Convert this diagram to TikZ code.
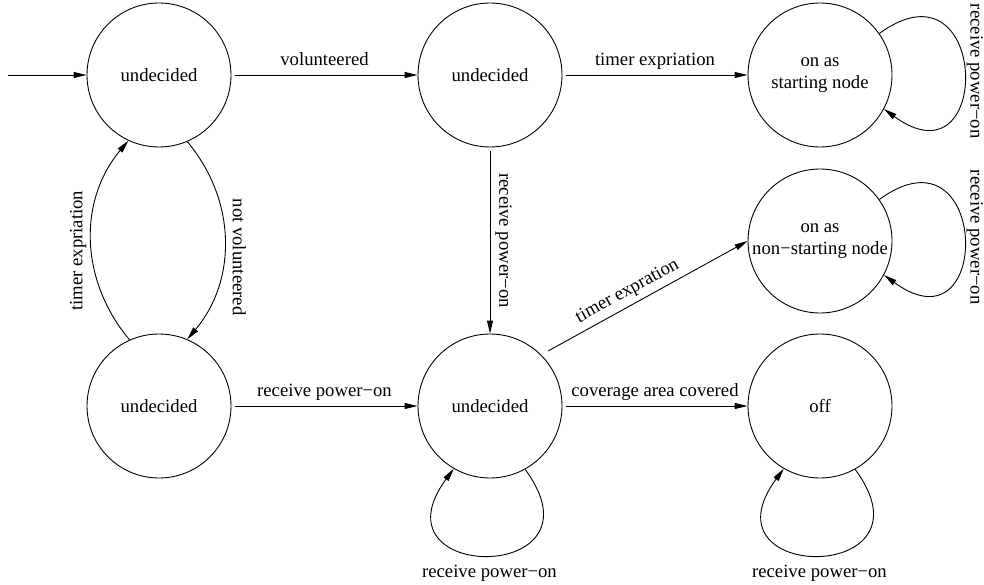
\documentclass[tikz,border=0pt]{standalone}
\usepackage{fontspec}
\setmainfont{Liberation Serif}
\usetikzlibrary{arrows.meta}

\tikzset{
  state/.style={draw, circle, minimum size=144pt, inner sep=0pt, align=center},
  trans/.style={-{Triangle[length=13pt,width=6pt]}},
  lab/.style={inner xsep=0pt, inner ysep=9pt, text depth=0pt},
}

\begin{document}
\begin{tikzpicture}[x=1pt, y=1pt, line width=0.9pt, font=\fontsize{18.7}{22}\selectfont]
\useasboundingbox (0,0) rectangle (984,-585);
% states
\node[state] (A) at (159,-75) {undecided};
\node[state] (B) at (490,-75) {undecided};
\node[state] (C) at (820,-75) {on as\\starting node};
\node[state] (D) at (820,-241) {on as\\non−starting node};
\node[state] (E) at (159,-406) {undecided};
\node[state] (F) at (490,-406) {undecided};
\node[state] (G) at (820,-406) {off};
\coordinate (init) at (8,-75);

% transitions
\draw[trans] (init) -- (A);
\draw[trans, shorten <=4pt] (A) -- (B) node[lab, midway, above] {volunteered};
\draw[trans, shorten <=4pt] (B) -- (C) node[lab, midway, above] {timer expriation};
\draw[trans, shorten <=4pt] (B) -- (F) node[lab, midway, rotate=-90, anchor=south] {receive power−on};
\draw[trans, shorten <=4pt] (E) -- (F) node[lab, midway, above] {receive power−on};
\draw[trans, shorten <=4pt] (F) -- (G) node[lab, midway, above] {coverage area covered};
\draw[trans, shorten <=8pt] (F.45) -- (D.180) node[lab, pos=0.45, sloped, above] {timer expration};
\draw[trans] (E.114) to[out=130, in=230] node[lab, pos=0.45, rotate=90, anchor=south] {timer expriation} (A.245);
\draw[trans] (A.293) to[out=-50, in=50] node[lab, pos=0.58, rotate=-90, anchor=south] {not volunteered} (E.67);

% self loops
\draw[trans] (C.35) .. controls +(110,80) and +(110,-80) .. (C.-28) node[lab, inner ysep=6pt, midway, rotate=-90, anchor=south] {receive power−on};
\draw[trans] (D.35) .. controls +(110,80) and +(110,-80) .. (D.-28) node[lab, inner ysep=6pt, midway, rotate=-90, anchor=south] {receive power−on};
\draw[trans] (F.-61) .. controls +(85,-115) and +(-85,-115) .. (F.-120) node[lab, midway, below] {receive power−on};
\draw[trans] (G.-61) .. controls +(85,-115) and +(-85,-115) .. (G.-120) node[lab, midway, below] {receive power−on};
\end{tikzpicture}
\end{document}
